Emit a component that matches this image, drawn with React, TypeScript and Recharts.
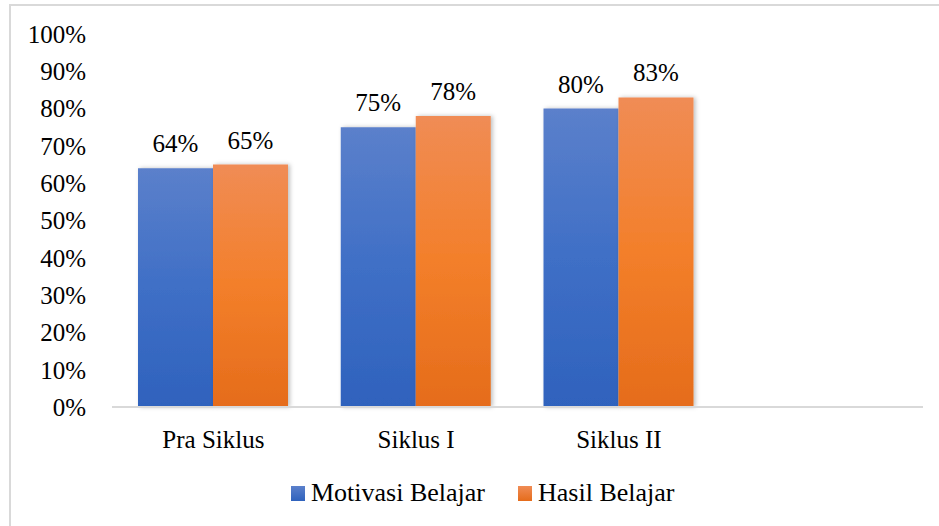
import { BarChart, Bar, XAxis, YAxis, Legend, LabelList } from "recharts";

const categories = ["Pra Siklus", "Siklus I", "Siklus II", ""];
const motivasi = [64, 75, 80, null];
const hasil = [65, 78, 83, null];
const yTicks = [0, 10, 20, 30, 40, 50, 60, 70, 80, 90, 100];

const data = categories.map((name, i) => ({ name, motivasi: motivasi[i], hasil: hasil[i] }));

const font = "Liberation Serif";

const series = [
  { key: "motivasi", label: "Motivasi Belajar", grad: "g-blue", swatch: "linear-gradient(#5b80cb, #2f62bd)" },
  { key: "hasil", label: "Hasil Belajar", grad: "g-orange", swatch: "linear-gradient(#f08c55, #e56c1b)" },
];

function LegendBox() {
  return (
    <div style={{ display: "flex", alignItems: "center", fontFamily: font, fontSize: 26, color: "#000" }}>
      {series.map((s, i) => (
        <span key={s.key} style={{ display: "flex", alignItems: "center", marginRight: i === 0 ? 33 : 0 }}>
          <span style={{ width: 14, height: 15, marginRight: 6, backgroundImage: s.swatch }} />
          {s.label}
        </span>
      ))}
    </div>
  );
}

export default function App() {
  return (
    <div style={{ position: "fixed", left: 0, top: 0, width: 939, height: 526, background: "#fff", fontFamily: font }}>
      <div
        style={{
          position: "absolute",
          left: 9,
          top: 4,
          width: 930,
          height: 522,
          borderTop: "2px solid #d9d9d9",
          borderLeft: "2px solid #d9d9d9",
          boxSizing: "border-box",
        }}
      />
      <BarChart
        width={939}
        height={526}
        data={data}
        margin={{ top: 34, right: 16, left: 0, bottom: 59 }}
        barGap={0}
        barSize={75}
        style={{ position: "absolute", left: 0, top: 0, fontFamily: font }}
      >
        <defs>
          <linearGradient id="g-blue" x1="0" y1="0" x2="0" y2="1">
            <stop offset="0%" stopColor="#5b80cb" />
            <stop offset="50%" stopColor="#3f6fc6" />
            <stop offset="100%" stopColor="#2f62bd" />
          </linearGradient>
          <linearGradient id="g-orange" x1="0" y1="0" x2="0" y2="1">
            <stop offset="0%" stopColor="#f08c55" />
            <stop offset="50%" stopColor="#f37f2a" />
            <stop offset="100%" stopColor="#e56c1b" />
          </linearGradient>
          <filter id="shadow" x="-10%" y="-5%" width="130%" height="110%">
            <feDropShadow dx="2" dy="0" stdDeviation="2" floodColor="#000" floodOpacity="0.25" />
          </filter>
        </defs>
        <XAxis
          dataKey="name"
          height={60}
          tickSize={0}
          tickMargin={23}
          tickLine={false}
          axisLine={{ stroke: "#d9d9d9", strokeWidth: 2 }}
          tick={{ fill: "#000", fontSize: 25, fontFamily: font }}
          interval={0}
        />
        <YAxis
          width={112}
          domain={[0, 100]}
          ticks={yTicks}
          tickFormatter={(v) => `${v}%`}
          tickSize={0}
          tickMargin={26}
          tickLine={false}
          axisLine={false}
          tick={{ fill: "#000", fontSize: 25, fontFamily: font }}
        />
        <Legend
          layout="horizontal"
          verticalAlign="middle"
          align="center"
          content={<LegendBox />}
          wrapperStyle={{ top: 478, left: 291, bottom: "auto", width: "auto" }}
        />
        {series.map((s) => (
          <Bar
            key={s.key}
            dataKey={s.key}
            name={s.label}
            fill={`url(#${s.grad})`}
            filter="url(#shadow)"
            isAnimationActive={false}
          >
            <LabelList
              dataKey={s.key}
              position="top"
              offset={16}
              formatter={(v: any) => (v == null ? "" : `${v}%`)}
              fill="#000"
              fontSize={25}
              fontFamily={font}
            />
          </Bar>
        ))}
      </BarChart>
    </div>
  );
}
